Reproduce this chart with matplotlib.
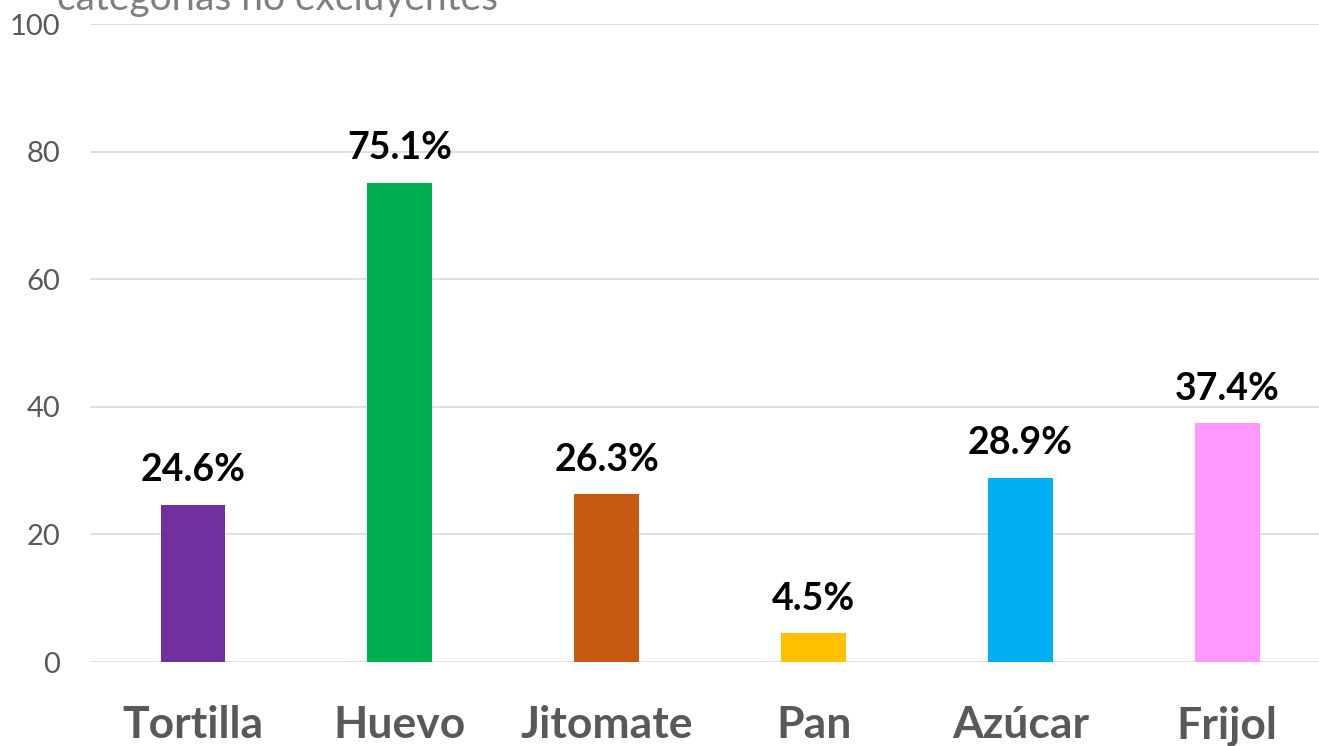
#!/usr/bin/env python

"""Bar chart: share per food item (categorías no excluyentes)"""

import matplotlib.pyplot as plt

# data
categories = ["Tortilla", "Huevo", "Jitomate", "Pan", "Azúcar", "Frijol"]
values = [24.6, 75.1, 26.3, 4.5, 28.9, 37.4]
bar_colors = ["#7030A0", "#00B050", "#C55A11", "#FFC000", "#00B0F0", "#FF99FF"]
y_ticks = [0, 20, 40, 60, 80, 100]

plt.rcParams["font.family"] = ["Lato", "DejaVu Sans"]

fig = plt.figure(figsize=(13.19, 7.46), dpi=100)
# axes runs a little past the right edge, like the cropped original
ax = fig.add_axes([0.0679, 0.1126, 0.941, 0.8552])

x_pos = range(len(categories))
ax.bar(x_pos, values, width=0.314, color=bar_colors, zorder=3)

for x, v in zip(x_pos, values):
    ax.annotate(f"{v:.1f}%", (x, v), xytext=(0, 17), textcoords="offset points",
                ha="center", va="baseline", fontsize=27, fontweight="bold",
                color="black", zorder=4)

ax.set_xlim(-0.5, len(categories) - 0.5)
ax.set_ylim(0, 100)
ax.set_yticks(y_ticks)
ax.set_xticks(list(x_pos))
ax.set_xticklabels(categories, fontsize=32, fontweight="bold", color="#595959")
ax.tick_params(axis="x", length=0, pad=31)
ax.tick_params(axis="y", length=0, pad=21, labelsize=21, labelcolor="#595959")

ax.grid(axis="y", color="#D9D9D9", linewidth=1.2, zorder=0)
for side in ["top", "right", "left", "bottom"]:
    ax.spines[side].set_visible(False)

# title, cut off at the top edge in the reference
fig.text(57 / 1319, 1 - 10 / 746, "categorías no excluyentes", fontsize=28,
         color="#7F7F7F", ha="left", va="baseline")

fig.savefig("out.png", dpi=100)
plt.close(fig)
